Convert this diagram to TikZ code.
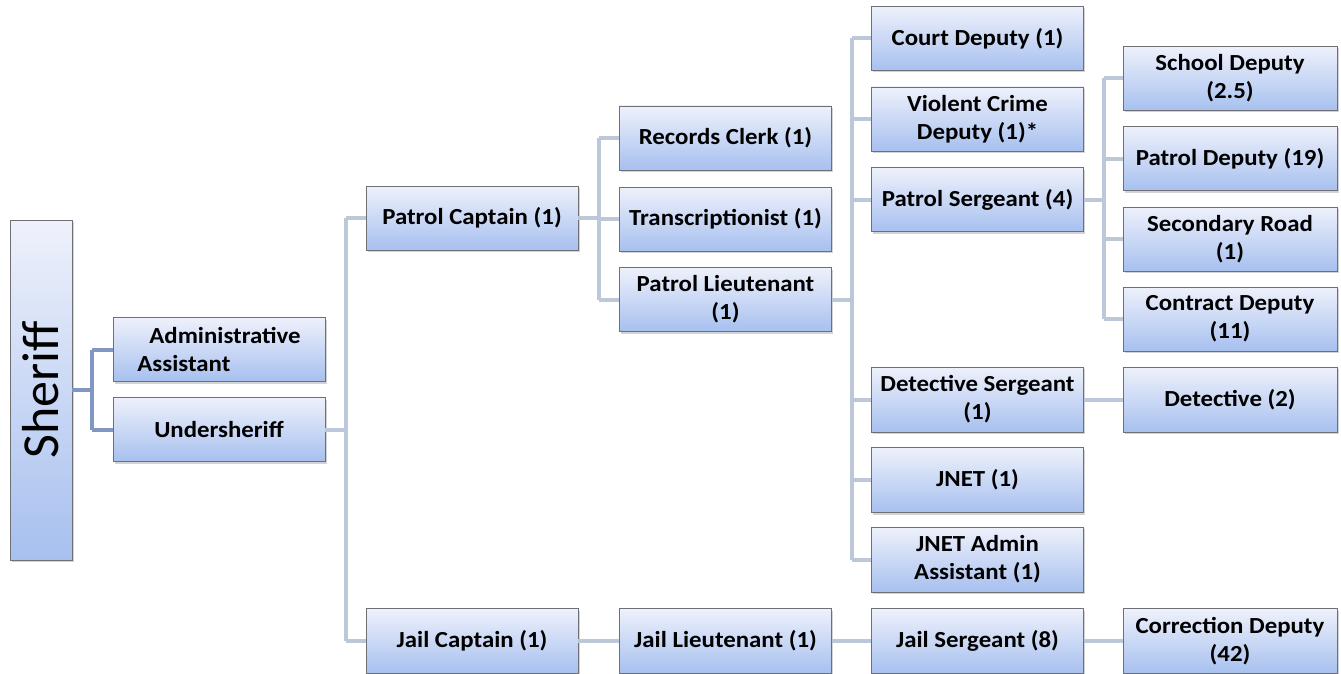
\documentclass[tikz,border=0pt]{standalone}
\usepackage{fontspec}
\setmainfont{Carlito}
\newfontfamily\boxfont[FakeStretch=1.08]{Carlito}
\usetikzlibrary{shadows}
\definecolor{boxtop}{HTML}{EEF1FB}
\definecolor{boxbot}{HTML}{A7C0EF}
\definecolor{boxline}{HTML}{6E7075}
\definecolor{linkA}{HTML}{7F97C2}
\definecolor{linkB}{HTML}{BCC7DA}
\tikzset{
  box/.style={draw=boxline, line width=0.8pt, top color=boxtop, bottom color=boxbot,
    drop shadow={shadow xshift=1.5pt, shadow yshift=-2pt, opacity=0.35},
    font=\boxfont\fontsize{23}{28}\selectfont\bfseries, align=center, inner sep=1pt,
    minimum width=212pt, minimum height=64pt},
  linkmain/.style={draw=linkA, line width=4pt},
  link/.style={draw=linkB, line width=4pt},
}
\begin{document}
\begin{tikzpicture}[x=1pt,y=-1pt]
\useasboundingbox (0,0) rectangle (1341,674);
\node[box, minimum width=62pt, minimum height=340pt, font=\fontsize{52}{52}\selectfont] (sheriff) at (41,390) {\rotatebox{90}{Sheriff}};
\node[box, align=left] (admin) at (219,349.5) {\hspace*{12pt}Administrative\\Assistant};
\node[box] (under) at (219,429.5) {Undersheriff};
\node[box] (pcap) at (472,218) {Patrol Captain (1)};
\node[box, minimum height=65pt] (jcap) at (472,641) {Jail Captain (1)};
\node[box] (rec) at (725.5,138) {Records Clerk (1)};
\node[box] (trans) at (725.5,219) {Transcriptionist (1)};
\node[box] (plt) at (725.5,299.5) {Patrol Lieutenant\\(1)};
\node[box, minimum height=65pt] (jlt) at (725.5,641) {Jail Lieutenant (1)};
\node[box] (court) at (977.5,38.5) {Court Deputy (1)};
\node[box] (viol) at (977.5,119) {Violent Crime\\Deputy (1)*};
\node[box] (psgt) at (977.5,199.5) {Patrol Sergeant (4)};
\node[box, minimum height=65pt] (dsgt) at (977.5,399.5) {Detective Sergeant\\(1)};
\node[box, minimum height=65pt] (jnet) at (977.5,480) {JNET (1)};
\node[box, minimum height=65pt] (jadmin) at (977.5,559.5) {JNET Admin\\Assistant (1)};
\node[box, minimum height=65pt] (jsgt) at (977.5,641) {Jail Sergeant (8)};
\node[box, minimum width=214pt] (school) at (1230,78.5) {School Deputy\\(2.5)};
\node[box, minimum width=214pt] (pdep) at (1230,158.5) {Patrol Deputy (19)};
\node[box, minimum width=214pt] (sec) at (1230,239) {Secondary Road\\(1)};
\node[box, minimum width=214pt] (contract) at (1230,319) {Contract Deputy\\(11)};
\node[box, minimum width=214pt, minimum height=65pt] (det) at (1230,399.5) {Detective (2)};
\node[box, minimum width=214pt, minimum height=65pt] (corr) at (1230,641) {Correction Deputy\\(42)};
% connectors
\path[linkmain] (sheriff.east) -- ++(20,0) coordinate (s1);
\path[linkmain] (s1 |- admin.west) -- (admin.west);
\path[linkmain] (s1 |- under.west) -- (under.west);
\path[linkmain] (s1 |- admin.west) -- (s1 |- under.west);
\path[link] (under.east) -- ++(21,0) coordinate (u1);
\path[link] (u1 |- pcap.west) -- (u1 |- jcap.west);
\path[link] (u1 |- pcap.west) -- (pcap.west);
\path[link] (u1 |- jcap.west) -- (jcap.west);
\path[link] (pcap.east) -- ++(21,0) coordinate (p1);
\path[link] (p1 |- rec.west) -- (p1 |- plt.west);
\path[link] (p1 |- rec.west) -- (rec.west);
\path[link] (p1 |- trans.west) -- (trans.west);
\path[link] (p1 |- plt.west) -- (plt.west);
\path[link] (plt.east) -- ++(20,0) coordinate (l1);
\path[link] (l1 |- court.west) -- (l1 |- jadmin.west);
\foreach \n in {court,viol,psgt,dsgt,jnet,jadmin} {\path[link] (l1 |- \n.west) -- (\n.west);}
\path[link] (psgt.east) -- ++(20,0) coordinate (g1);
\path[link] (g1 |- school.west) -- (g1 |- contract.west);
\foreach \n in {school,pdep,sec,contract} {\path[link] (g1 |- \n.west) -- (\n.west);}
\path[link] (dsgt.east) -- (det.west);
\path[link] (jcap.east) -- (jlt.west);
\path[link] (jlt.east) -- (jsgt.west);
\path[link] (jsgt.east) -- (corr.west);
\end{tikzpicture}
\end{document}
